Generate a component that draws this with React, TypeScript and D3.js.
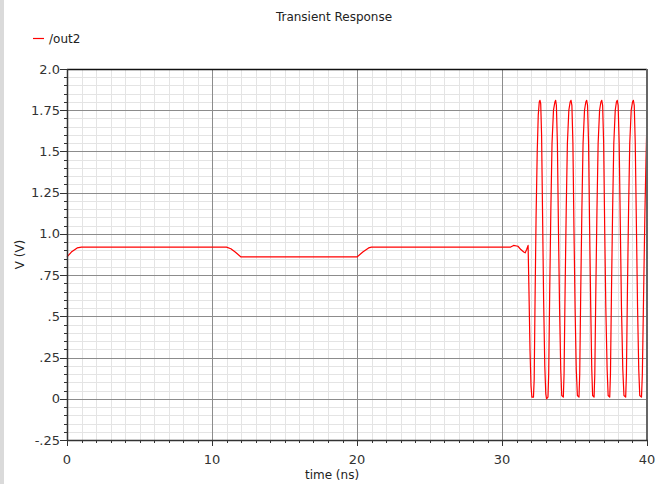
import { useMemo } from "react";
import * as d3 from "d3";

const WIDTH = 669;
const HEIGHT = 484;

const title = "Transient Response";
const seriesName = "/out2";
const xLabel = "time (ns)";
const yLabel = "V (V)";

const xTickValues = [0, 10, 20, 30, 40];
const xTickLabels = ["0", "10", "20", "30", "40"];
const yTickValues = [-0.25, 0, 0.25, 0.5, 0.75, 1.0, 1.25, 1.5, 1.75, 2.0];
const yTickLabels = ["-.25", "0", ".25", ".5", ".75", "1.0", "1.25", "1.5", "1.75", "2.0"];

// time in ns
const timeNs = [
  0, 0.3, 0.7, 1.0, 11.0, 11.3, 11.6, 12.0, 20.0, 20.4, 20.8, 21.0,
  30.6, 30.8, 31.1, 31.3, 31.5, 31.6, 31.7, 31.8,
  31.86, 31.93, 32.0, 32.06, 32.17,
  32.22, 32.28, 32.35, 32.43, 32.5, 32.57, 32.62, 32.67, 32.73, 32.8, 32.87, 32.95, 33.02, 33.07, 33.17,
  33.22, 33.29, 33.37, 33.45, 33.55, 33.65, 33.7, 33.75, 33.82, 33.89, 33.97, 34.05, 34.12, 34.23,
  34.28, 34.35, 34.43, 34.51, 34.61, 34.7, 34.76, 34.82, 34.89, 34.96, 35.04, 35.12, 35.2, 35.31,
  35.36, 35.43, 35.51, 35.59, 35.69, 35.78, 35.84, 35.9, 35.97, 36.04, 36.12, 36.19, 36.25, 36.35,
  36.4, 36.47, 36.55, 36.63, 36.73, 36.82, 36.88, 36.94, 37.01, 37.08, 37.16, 37.25, 37.32, 37.43,
  37.48, 37.55, 37.63, 37.71, 37.81, 37.89, 37.95, 38.01, 38.08, 38.16, 38.24, 38.33, 38.41, 38.53,
  38.58, 38.65, 38.73, 38.81, 38.91, 39.0, 39.06, 39.12, 39.19, 39.27, 39.35, 39.43, 39.5, 39.62,
  39.68, 39.76, 39.85, 39.93, 40.0,
];

const volts = [
  0.86, 0.89, 0.915, 0.92, 0.92, 0.91, 0.89, 0.86, 0.86, 0.89, 0.915, 0.92,
  0.92, 0.93, 0.925, 0.905, 0.89, 0.885, 0.905, 0.93,
  0.65, 0.3, 0.08, 0.01, 0.01,
  0.12, 0.6, 1.1, 1.5, 1.72, 1.8, 1.81, 1.79, 1.6, 1.1, 0.6, 0.2, 0.03, 0.0, 0.01,
  0.15, 0.65, 1.15, 1.55, 1.75, 1.8, 1.81, 1.78, 1.55, 1.05, 0.55, 0.18, 0.02, 0.01,
  0.15, 0.65, 1.15, 1.55, 1.75, 1.8, 1.81, 1.78, 1.55, 1.05, 0.55, 0.18, 0.02, 0.01,
  0.15, 0.65, 1.15, 1.55, 1.75, 1.8, 1.81, 1.78, 1.55, 1.05, 0.55, 0.18, 0.02, 0.01,
  0.15, 0.65, 1.15, 1.55, 1.75, 1.8, 1.81, 1.78, 1.55, 1.05, 0.55, 0.18, 0.02, 0.01,
  0.15, 0.65, 1.15, 1.55, 1.75, 1.8, 1.81, 1.78, 1.55, 1.05, 0.55, 0.18, 0.02, 0.01,
  0.15, 0.65, 1.15, 1.55, 1.75, 1.8, 1.81, 1.78, 1.55, 1.05, 0.55, 0.18, 0.02, 0.01,
  0.15, 0.6, 1.1, 1.45, 1.7,
];

const LEFT = 67;
const RIGHT = 647;
const TOP = 69;
const BOTTOM = 440;
const FONT = "'DejaVu Sans', sans-serif";

function App() {
  const xScale = useMemo(() => d3.scaleLinear().domain([0, 40]).range([LEFT, RIGHT]), []);
  const yScale = useMemo(() => d3.scaleLinear().domain([-0.25, 2.0]).range([BOTTOM, TOP]), []);

  const minorX = d3.range(0, 41, 1);
  const minorY = d3.range(-0.25, 2.0001, 0.05);

  const points = timeNs.map((t, i) => [t, volts[i]] as [number, number]);
  const line = d3
    .line<[number, number]>()
    .x((d) => xScale(d[0]))
    .y((d) => yScale(d[1]));

  const px = (v: number) => Math.round(v) + 0.5;

  return (
    <svg
      width={WIDTH}
      height={HEIGHT}
      style={{ position: "absolute", left: 0, top: 0, background: "#fff" }}
      fontFamily={FONT}
    >
      <rect x={0} y={0} width={4} height={HEIGHT} fill="#dadada" />

      <text x={334} y={21} textAnchor="middle" fontSize={12} fill="#222">
        {title}
      </text>
      <line x1={33} x2={44} y1={38.5} y2={38.5} stroke="#ff0000" strokeWidth={1.2} />
      <text x={49} y={43} fontSize={12} fill="#222">
        {seriesName}
      </text>

      {/* minor grid */}
      {minorX.map((t) => (
        <line key={"mx" + t} x1={px(xScale(t))} x2={px(xScale(t))} y1={TOP} y2={BOTTOM} stroke="#e4e4e4" />
      ))}
      {minorY.map((v, i) => (
        <line key={"my" + i} x1={LEFT} x2={RIGHT} y1={px(yScale(v))} y2={px(yScale(v))} stroke="#e4e4e4" />
      ))}
      {/* major grid */}
      {xTickValues.map((t) => (
        <line key={"gx" + t} x1={px(xScale(t))} x2={px(xScale(t))} y1={TOP} y2={BOTTOM} stroke="#8c8c8c" />
      ))}
      {yTickValues.map((v) => (
        <line key={"gy" + v} x1={LEFT} x2={RIGHT} y1={px(yScale(v))} y2={px(yScale(v))} stroke="#8c8c8c" />
      ))}

      <path d={line(points) ?? ""} fill="none" stroke="#ff0000" strokeWidth={1.2} strokeLinejoin="round" />

      {/* frame */}
      <line x1={LEFT} x2={RIGHT} y1={TOP + 0.5} y2={TOP + 0.5} stroke="#111" strokeWidth={1.5} />
      <line x1={RIGHT} x2={RIGHT} y1={TOP} y2={BOTTOM} stroke="#666" strokeWidth={2} />
      <line x1={LEFT + 0.5} x2={LEFT + 0.5} y1={TOP} y2={BOTTOM + 1} stroke="#333" strokeWidth={1.5} />
      <line x1={LEFT} x2={RIGHT + 1} y1={BOTTOM + 0.5} y2={BOTTOM + 0.5} stroke="#333" strokeWidth={1.5} />

      {/* y ticks */}
      {minorY.map((v, i) => (
        <line key={"ty" + i} x1={LEFT - 3} x2={LEFT} y1={px(yScale(v))} y2={px(yScale(v))} stroke="#333" />
      ))}
      {yTickValues.map((v, i) => (
        <g key={"yl" + v}>
          <line x1={LEFT - 7} x2={LEFT} y1={px(yScale(v))} y2={px(yScale(v))} stroke="#333" />
          <text x={LEFT - 7} y={yScale(v) + 4.5} textAnchor="end" fontSize={13} fill="#333">
            {yTickLabels[i]}
          </text>
        </g>
      ))}

      {/* x ticks */}
      {minorX.map((t) => (
        <line key={"tx" + t} x1={px(xScale(t))} x2={px(xScale(t))} y1={BOTTOM} y2={BOTTOM + 3} stroke="#333" />
      ))}
      {xTickValues.map((t, i) => (
        <g key={"xl" + t}>
          <line x1={px(xScale(t))} x2={px(xScale(t))} y1={BOTTOM} y2={BOTTOM + 6} stroke="#333" />
          <text x={xScale(t)} y={BOTTOM + 24} textAnchor="middle" fontSize={13} fill="#333">
            {xTickLabels[i]}
          </text>
        </g>
      ))}

      <text x={332} y={479} textAnchor="middle" fontSize={12} fill="#222">
        {xLabel}
      </text>
      <text
        transform={`translate(24, ${(TOP + BOTTOM) / 2}) rotate(-90)`}
        textAnchor="middle"
        fontSize={12}
        fill="#222"
      >
        {yLabel}
      </text>
    </svg>
  );
}

export default App;
